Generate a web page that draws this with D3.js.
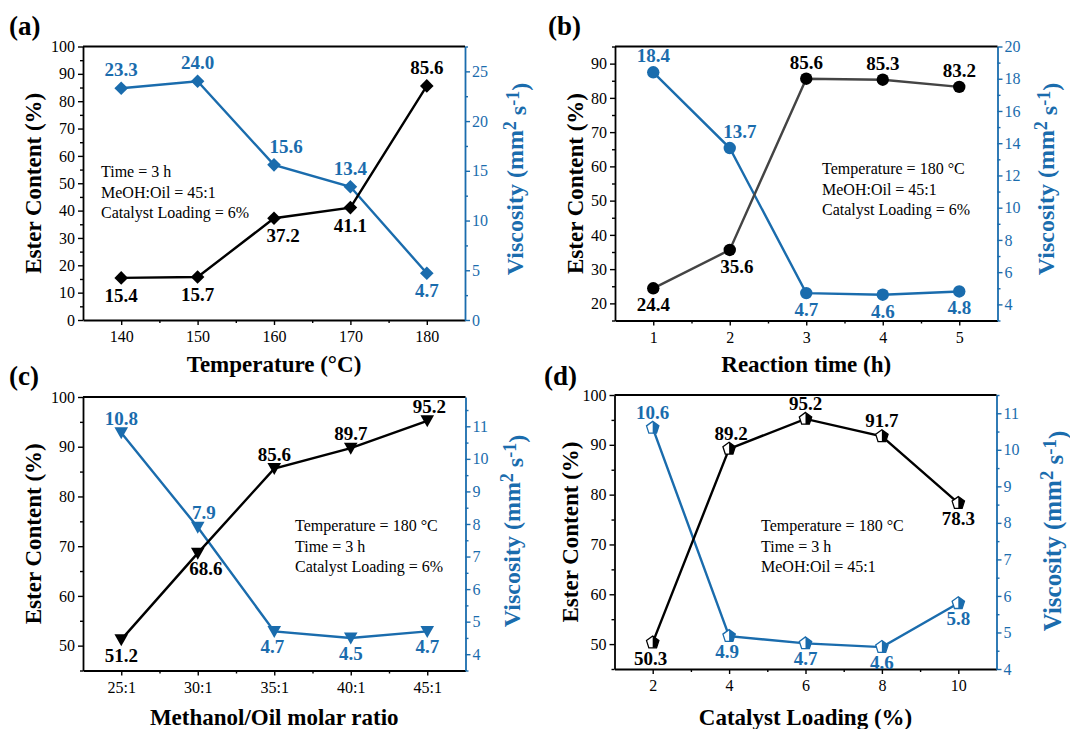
<!DOCTYPE html>
<html><head><meta charset="utf-8">
<script src="https://cdn.jsdelivr.net/npm/d3@7"></script>
<style>body{margin:0;background:#fff}svg{display:block}svg text{font-family:"Liberation Serif","Times New Roman",Times,"DejaVu Serif","Noto Serif",serif !important}</style>
</head><body>
<script>
// ---------- data ----------
const tempX = [140, 150, 160, 170, 180];
const tempEster = [15.4, 15.7, 37.2, 41.1, 85.6];
const tempVisc = [23.3, 24.0, 15.6, 13.4, 4.7];

const timeX = [1, 2, 3, 4, 5];
const timeEster = [24.4, 35.6, 85.6, 85.3, 83.2];
const timeVisc = [18.4, 13.7, 4.7, 4.6, 4.8];

const ratioLabels = ["25:1", "30:1", "35:1", "40:1", "45:1"];
const ratioEster = [51.2, 68.6, 85.6, 89.7, 95.2];
const ratioVisc = [10.8, 7.9, 4.7, 4.5, 4.7];

const loadX = [2, 4, 6, 8, 10];
const loadEster = [50.3, 89.2, 95.2, 91.7, 78.3];
const loadVisc = [10.6, 4.9, 4.7, 4.6, 5.8];

const W = 1070, H = 729;
const BLUE = "#1a6cad";
const FONT = "'Liberation Serif','Times New Roman',Times,'DejaVu Serif',serif";
const fmt = d3.format(".1f");

const svg = d3.select("body").append("svg").attr("width", W).attr("height", H)
  .attr("font-family", FONT);

const panels = [
  { letter: "(a)", lx: 9, ly: 35, frame: [83, 465, 46.5, 320],
    xDom: [135, 185], xTicks: tempX, xMinor: 5, xFmt: d => d,
    x: tempX, lDom: [0, 100], lTicks: d3.range(0, 101, 10), lMinor: 5,
    rDom: [0, 27.5], rTicks: d3.range(0, 26, 5), rMinor: 2.5,
    ester: tempEster, visc: tempVisc, marker: "diamond", lineColor: "#000",
    ePos: ["b", "b", "b", "b", "a"], eDx: [0, 0, 9, 0, 0],
    vPos: ["a", "a", "a", "a", "b"], vDx: [0, 0, 12, 0, 0], aOff: -12, bOff: 24,
    note: ["Time = 3 h", "MeOH:Oil = 45:1", "Catalyst Loading = 6%"], nx: 101, ny: 177,
    xTitle: "Temperature (°C)", xtY: 372, ltX: 33, rtX: 515, rtY: 179, rtSize: 24 },
  { letter: "(b)", lx: 548, ly: 35, frame: [615, 997.5, 46.5, 320.5],
    xDom: [0.5, 5.5], xTicks: timeX, xMinor: 0.5, xFmt: d => d,
    x: timeX, lDom: [15, 95], lTicks: d3.range(20, 91, 10), lMinor: 5,
    rDom: [3, 20], rTicks: d3.range(4, 21, 2), rMinor: 1,
    ester: timeEster, visc: timeVisc, marker: "circle", lineColor: "#444",
    ePos: ["b", "b", "a", "a", "a"], eDx: [0, 7, 0, 0, 0],
    vPos: ["a", "a", "b", "b", "b"], vDx: [0, 10, 0, 0, 0], aOff: -10, bOff: 23,
    note: ["Temperature = 180 °C", "MeOH:Oil = 45:1", "Catalyst Loading = 6%"], nx: 822, ny: 174,
    xTitle: "Reaction time (h)", xtY: 372, ltX: 575, rtX: 1046, rtY: 179, rtSize: 24 },
  { letter: "(c)", lx: 9, ly: 385, frame: [83, 465.5, 397, 670.5],
    xDom: [-0.5, 4.5], xTicks: [0, 1, 2, 3, 4], xMinor: 0.5, xFmt: i => ratioLabels[i],
    x: [0, 1, 2, 3, 4], lDom: [45, 100], lTicks: d3.range(50, 101, 10), lMinor: 5,
    rDom: [3.5, 11.9], rTicks: d3.range(4, 12, 1), rMinor: 0.5,
    ester: ratioEster, visc: ratioVisc, marker: "triangle", lineColor: "#000",
    ePos: ["b", "b", "a", "a", "a"], eDx: [0, 8, 0, 0, 2],
    vPos: ["a", "a", "b", "b", "b"], vDx: [0, 6, -2, 0, 0], aOff: -8, bOff: 22,
    note: ["Temperature = 180 °C", "Time = 3 h", "Catalyst Loading = 6%"], nx: 295, ny: 531,
    xTitle: "Methanol/Oil molar ratio", xtY: 725, ltX: 33, rtX: 512, rtY: 531, rtSize: 24 },
  { letter: "(d)", lx: 544, ly: 385, frame: [614.5, 996.5, 395, 669],
    xDom: [1, 11], xTicks: loadX, xMinor: 1, xFmt: d => d,
    x: loadX, lDom: [45, 100], lTicks: d3.range(50, 101, 10), lMinor: 5,
    rDom: [4, 11.5], rTicks: d3.range(4, 12, 1), rMinor: 0.5,
    ester: loadEster, visc: loadVisc, marker: "pentagon", lineColor: "#000",
    ePos: ["b", "a", "a", "a", "b"], eDx: [-2, 2, 0, 0, 0],
    vPos: ["a", "b", "b", "b", "b"], vDx: [0, -2, 0, 0, 0], aOff: -9, bOff: 22,
    note: ["Temperature = 180 °C", "Time = 3 h", "MeOH:Oil = 45:1"], nx: 761, ny: 531,
    xTitle: "Catalyst Loading (%)", xtY: 725, ltX: 570, rtX: 1052, rtY: 531, rtSize: 25 }
];

function pent(r) {
  return d3.range(5).map(i => {
    const a = -Math.PI / 2 + i * 2 * Math.PI / 5;
    return [r * Math.cos(a), r * Math.sin(a)];
  });
}

function drawMarker(g, type, color) {
  if (type === "diamond") {
    const r = 6.8;
    g.append("path").attr("d", `M0,${-r}L${r},0L0,${r}L${-r},0Z`).attr("fill", color);
  } else if (type === "circle") {
    g.append("circle").attr("r", 6.2).attr("fill", color);
  } else if (type === "triangle") {
    g.append("path").attr("d", "M-6.8,-5.5L6.8,-5.5L0,6.5Z").attr("fill", color);
  } else if (type === "pentagon") {
    const p = pent(6.5);
    g.append("path").attr("d", "M" + p.map(q => q.join(",")).join("L") + "Z")
      .attr("fill", "#fff").attr("stroke", color).attr("stroke-width", 1.3);
    const half = [p[0], p[1], p[2], [0, p[2][1]]];
    g.append("path").attr("d", "M" + half.map(q => q.join(",")).join("L") + "Z").attr("fill", color);
  }
}

panels.forEach(P => {
  const [x0, x1, y0, y1] = P.frame;
  const x = d3.scaleLinear().domain(P.xDom).range([x0, x1]);
  const yl = d3.scaleLinear().domain(P.lDom).range([y1, y0]);
  const yr = d3.scaleLinear().domain(P.rDom).range([y1, y0]);
  const g = svg.append("g");

  g.append("text").attr("x", P.lx).attr("y", P.ly).attr("font-size", 27).attr("font-weight", "bold").text(P.letter);

  const xMinorVals = d3.range(P.xDom[0], P.xDom[1] + 1e-9, P.xMinor).filter(v => v > P.xDom[0] + 1e-9 && v < P.xDom[1] - 1e-9 && !P.xTicks.includes(v));
  const lMinorVals = d3.range(Math.ceil(P.lDom[0] / P.lMinor) * P.lMinor, P.lDom[1] + 1e-9, P.lMinor).filter(v => !P.lTicks.some(t => Math.abs(t - v) < 1e-9));
  const rMinorVals = d3.range(Math.ceil(P.rDom[0] / P.rMinor) * P.rMinor, P.rDom[1] + 1e-9, P.rMinor).filter(v => !P.rTicks.some(t => Math.abs(t - v) < 1e-9));

  g.append("g").attr("transform", `translate(0,${y1})`)
    .call(d3.axisBottom(x).tickValues(P.xTicks).tickFormat(P.xFmt).tickSize(5).tickPadding(6).tickSizeOuter(0));
  g.append("g").attr("transform", `translate(0,${y1})`)
    .call(d3.axisBottom(x).tickValues(xMinorVals).tickFormat("").tickSize(3).tickSizeOuter(0))
    .select(".domain").remove();
  g.append("g").attr("transform", `translate(${x0},0)`)
    .call(d3.axisLeft(yl).tickValues(P.lTicks).tickSize(5).tickPadding(3).tickSizeOuter(0));
  g.append("g").attr("transform", `translate(${x0},0)`)
    .call(d3.axisLeft(yl).tickValues(lMinorVals).tickFormat("").tickSize(3).tickSizeOuter(0))
    .select(".domain").remove();
  const axR = g.append("g").attr("transform", `translate(${x1},0)`)
    .call(d3.axisRight(yr).tickValues(P.rTicks).tickSize(5).tickPadding(2).tickSizeOuter(0));
  const axRm = g.append("g").attr("transform", `translate(${x1},0)`)
    .call(d3.axisRight(yr).tickValues(rMinorVals).tickFormat("").tickSize(3).tickSizeOuter(0));
  axRm.select(".domain").remove();

  g.selectAll("g").attr("font-family", FONT);
  g.selectAll(".tick text").attr("font-size", 16).attr("fill", "#000");
  g.selectAll(".domain").attr("stroke-width", 1.8);
  g.selectAll(".tick line").attr("stroke-width", 1.4);
  [axR, axRm].forEach(a => {
    a.selectAll("line,.domain").attr("stroke", BLUE);
    a.selectAll("text").attr("fill", BLUE);
  });
  g.append("line").attr("x1", x0).attr("x2", x1).attr("y1", y0).attr("y2", y0).attr("stroke", "#000").attr("stroke-width", 1.8);

  const nt = g.append("text").attr("font-size", 16).attr("fill", "#000");
  P.note.forEach((s, i) => nt.append("tspan").attr("x", P.nx).attr("y", P.ny + i * 20.5).text(s));

  const lineE = d3.line().x((d, i) => x(P.x[i])).y(d => yl(d));
  const lineV = d3.line().x((d, i) => x(P.x[i])).y(d => yr(d));
  g.append("path").attr("d", lineV(P.visc)).attr("fill", "none").attr("stroke", BLUE).attr("stroke-width", 2.4);
  g.append("path").attr("d", lineE(P.ester)).attr("fill", "none").attr("stroke", P.lineColor).attr("stroke-width", 2.4);

  P.visc.forEach((v, i) => drawMarker(g.append("g").attr("transform", `translate(${x(P.x[i])},${yr(v)})`), P.marker, BLUE));
  P.ester.forEach((v, i) => drawMarker(g.append("g").attr("transform", `translate(${x(P.x[i])},${yl(v)})`), P.marker, "#000"));

  P.ester.forEach((v, i) => g.append("text").attr("x", x(P.x[i]) + P.eDx[i]).attr("y", yl(v) + (P.ePos[i] === "a" ? P.aOff : P.bOff))
    .attr("text-anchor", "middle").attr("font-size", 19).attr("font-weight", "bold").attr("fill", "#000").text(fmt(v)));
  P.visc.forEach((v, i) => g.append("text").attr("x", x(P.x[i]) + P.vDx[i]).attr("y", yr(v) + (P.vPos[i] === "a" ? P.aOff : P.bOff))
    .attr("text-anchor", "middle").attr("font-size", 19).attr("font-weight", "bold").attr("fill", BLUE).text(fmt(v)));

  g.append("text").attr("x", (x0 + x1) / 2).attr("y", P.xtY).attr("text-anchor", "middle")
    .attr("font-size", 23).attr("font-weight", "bold").text(P.xTitle);
  g.append("text").attr("transform", `translate(${P.ltX},${(y0 + y1) / 2}) rotate(-90)`).attr("text-anchor", "middle")
    .attr("dy", "0.35em").attr("font-size", 23).attr("font-weight", "bold").text("Ester Content (%)");
  const rt = g.append("text").attr("transform", `translate(${P.rtX},${P.rtY}) rotate(-90)`).attr("text-anchor", "middle")
    .attr("dy", "0.35em").attr("font-size", P.rtSize).attr("font-weight", "bold").attr("fill", BLUE);
  rt.append("tspan").text("Viscosity (mm");
  rt.append("tspan").attr("dy", "-0.4em").attr("font-size", P.rtSize * 0.75).text("2");
  rt.append("tspan").attr("dy", "0.4em").text(" s");
  rt.append("tspan").attr("dy", "-0.4em").attr("font-size", P.rtSize * 0.75).text("-1");
  rt.append("tspan").attr("dy", "0.4em").text(")");
});
</script>
</body></html>
